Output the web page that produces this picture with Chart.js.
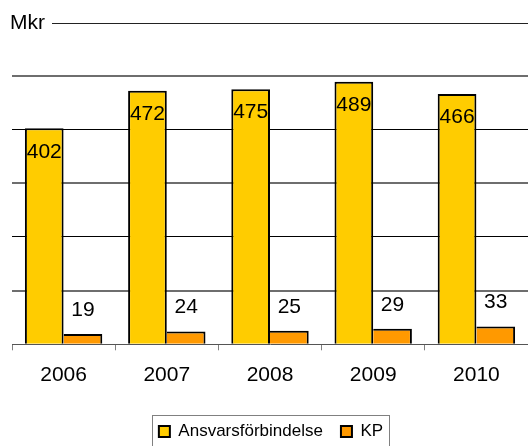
<!DOCTYPE html>
<html>
<head>
<meta charset="utf-8">
<title>Ansvarsförbindelse och KP</title>
<script src="https://cdn.jsdelivr.net/npm/chart.js@4.4.1/dist/chart.umd.min.js"></script>
<style>
  html, body { margin: 0; padding: 0; background: #fff; }
  #wrap { width: 528px; height: 446px; position: relative; }
</style>
</head>
<body>
<div id="wrap"><canvas id="chart"></canvas></div>
<script>
// Ansvarsförbindelse och KP per år, Mkr
const years = ["2006", "2007", "2008", "2009", "2010"]
const ansvarsforbindelse = [402, 472, 475, 489, 466]
const kp = [19, 24, 25, 29, 33]
const seriesNames = ["Ansvarsförbindelse", "KP"]
const unitLabel = "Mkr"
const yMax = 600
const yStep = 100

const FONT = "'Liberation Sans', Arial, sans-serif"

// numbers on the bars: inside the top of the yellow ones, above the orange ones
const valueLabels = {
  id: "valueLabels",
  afterDatasetsDraw(chart) {
    const ctx = chart.ctx
    ctx.save()
    ctx.font = "21px " + FONT
    ctx.fillStyle = "#000"
    ctx.textAlign = "center"
    ctx.textBaseline = "middle"
    chart.data.datasets.forEach((ds, i) => {
      chart.getDatasetMeta(i).data.forEach((bar, j) => {
        const y = i === 0 ? bar.y + 23.5 : bar.y - 24
        ctx.fillText(String(ds.data[j]), bar.x, y)
      })
    })
    ctx.restore()
  },
}

// "Mkr" with the rule across the top, and the frame round the legend
const decorations = {
  id: "decorations",
  afterDraw(chart) {
    const ctx = chart.ctx
    const top = Math.round(chart.scales.y.getPixelForValue(yMax)) + 1.5
    ctx.save()
    ctx.font = "21px " + FONT
    ctx.fillStyle = "#000"
    ctx.textBaseline = "alphabetic"
    ctx.fillText(unitLabel, 10, 29)
    ctx.strokeStyle = "#222"
    ctx.lineWidth = 1
    ctx.beginPath()
    ctx.moveTo(52, top)
    ctx.lineTo(chart.width, top)
    ctx.stroke()

    const boxes = chart.legend.legendHitBoxes
    if (boxes && boxes.length) {
      const first = boxes[0]
      const last = boxes[boxes.length - 1]
      const left = Math.round(first.left - 7) + 0.5
      const right = Math.round(last.left + last.width + 6) + 0.5
      const frameTop = Math.round(first.top + first.height / 2 - 17) + 0.5
      ctx.strokeStyle = "#808080"
      ctx.strokeRect(left, frameTop, right - left, chart.height + 10 - frameTop)
    }
    ctx.restore()
  },
}

const ctx = document.getElementById("chart").getContext("2d")
new Chart(ctx, {
  type: "bar",
  data: {
    labels: years,
    datasets: [
      {
        label: seriesNames[0],
        data: ansvarsforbindelse,
        backgroundColor: "#FFCC00",
        borderColor: "#000",
        borderWidth: { top: 2, left: 2, right: 2, bottom: 0 },
      },
      {
        label: seriesNames[1],
        data: kp,
        backgroundColor: "#FF9900",
        borderColor: "#000",
        borderWidth: { top: 2, left: 0, right: 2, bottom: 0 },
      },
    ],
  },
  options: {
    responsive: true,
    maintainAspectRatio: false,
    animation: false,
    layout: {
      padding: { left: 12, right: -2, top: 22, bottom: -4 },
    },
    datasets: {
      bar: {
        barPercentage: 1,
        categoryPercentage: 0.75,
      },
    },
    scales: {
      x: {
        grid: {
          offset: true,
          drawOnChartArea: false,
          drawTicks: true,
          tickLength: 6,
          color: "#808080",
        },
        border: { display: true, color: "#555", width: 1 },
        ticks: {
          font: { family: FONT, size: 21 },
          color: "#000",
          padding: 12,
          maxRotation: 0,
        },
        afterFit(scale) {
          scale.height = 60.7
        },
      },
      y: {
        min: 0,
        max: yMax,
        ticks: { display: false, stepSize: yStep },
        border: { display: false },
        grid: {
          drawTicks: false,
          color: (c) => {
            const v = c.tick.value
            if (v === 0 || v === yMax) return "rgba(0,0,0,0)"
            return (v / yStep) % 2 === 1 ? "#6e6e6e" : "#000"
          },
          lineWidth: (c) => ((c.tick.value / yStep) % 2 === 1 ? 2 : 1),
        },
      },
    },
    plugins: {
      title: { display: false },
      tooltip: { enabled: false },
      legend: {
        position: "bottom",
        labels: {
          font: { family: FONT, size: 17 },
          color: "#000",
          boxWidth: 11,
          boxHeight: 11,
          padding: 18,
          generateLabels(chart) {
            const items = Chart.defaults.plugins.legend.labels.generateLabels(chart)
            items.forEach((item) => {
              item.lineWidth = 2
              item.strokeStyle = "#000"
            })
            return items
          },
        },
      },
    },
  },
  plugins: [valueLabels, decorations],
})
</script>
</body>
</html>
